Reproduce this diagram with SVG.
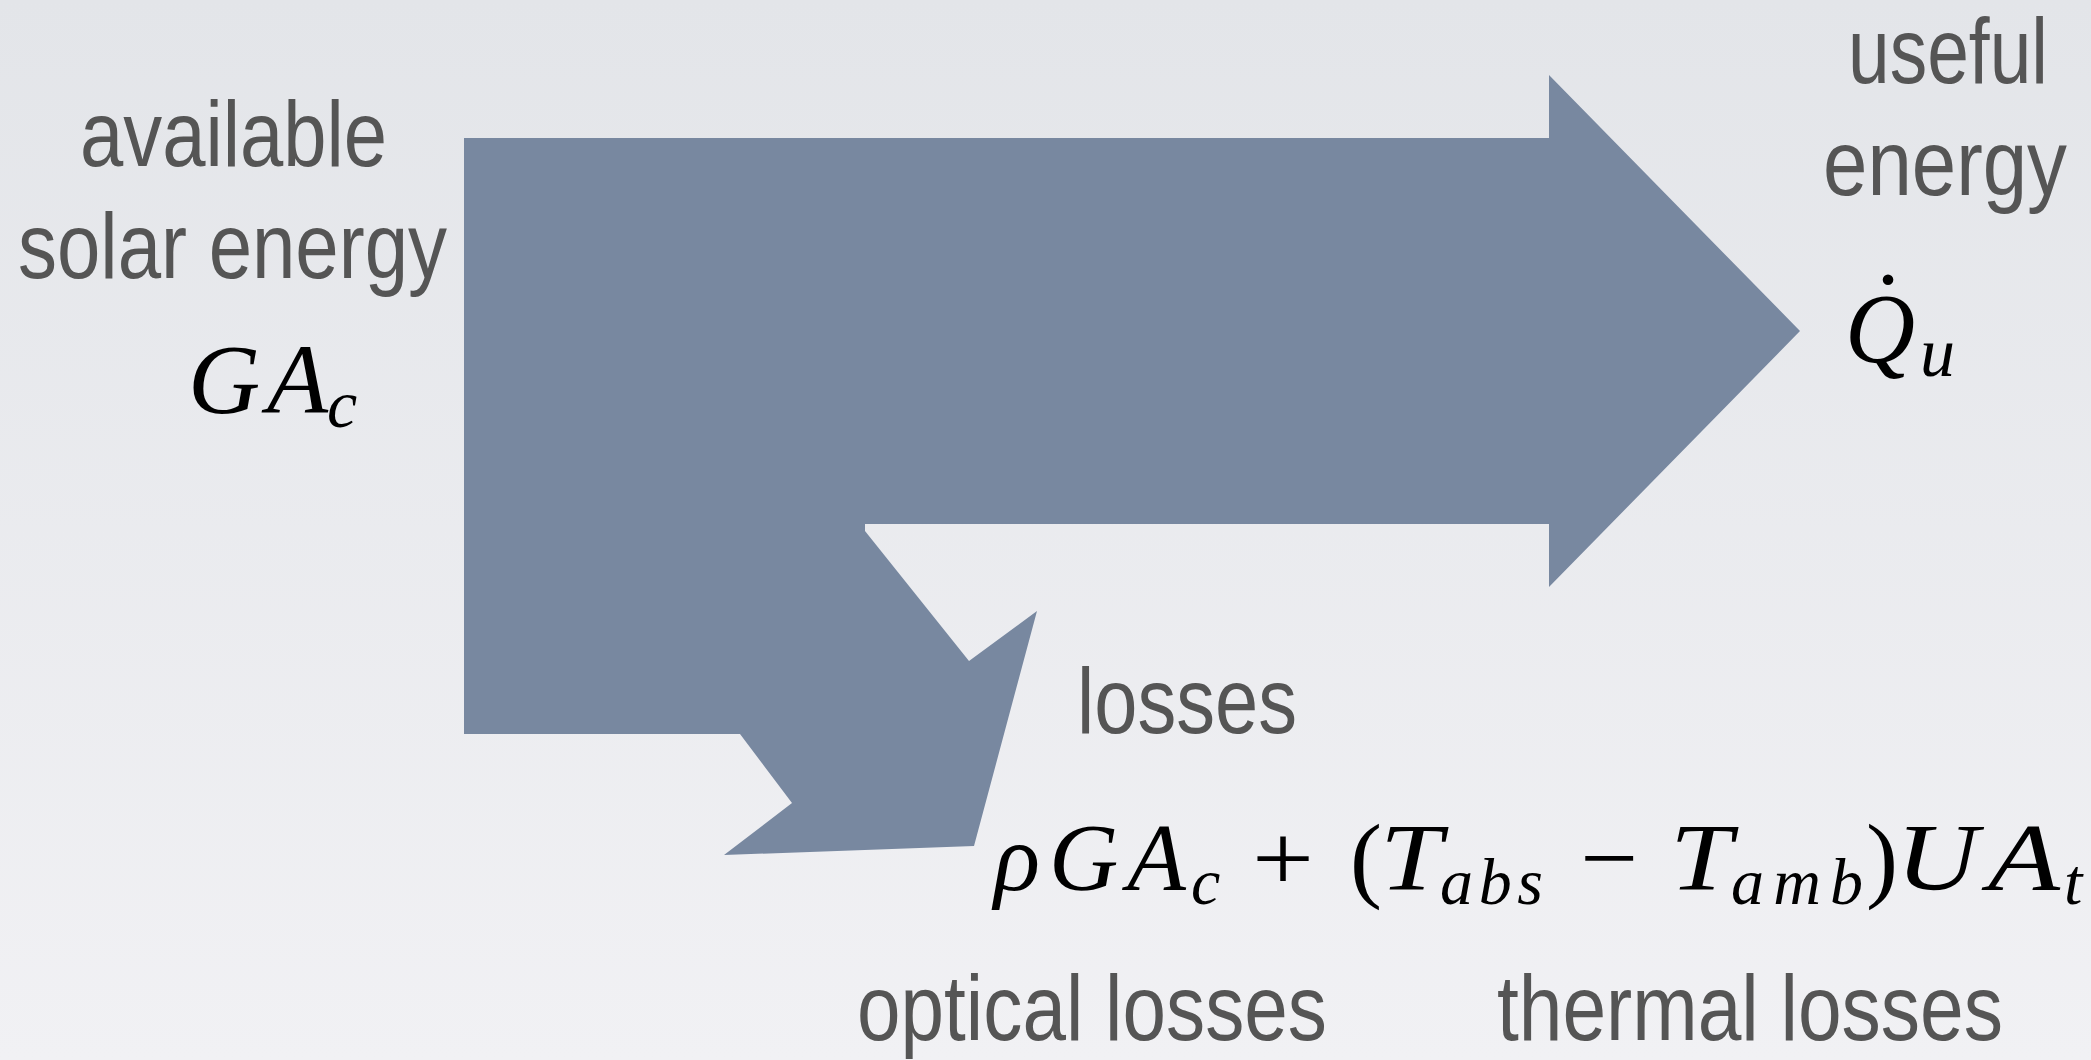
<svg xmlns="http://www.w3.org/2000/svg" width="2091" height="1060" viewBox="0 0 2091 1060">
  <defs>
    <linearGradient id="bg" x1="0" y1="0" x2="0" y2="1">
      <stop offset="0" stop-color="#e3e5e9"/>
      <stop offset="1" stop-color="#f1f1f4"/>
    </linearGradient>
  </defs>
  <style>
    .lbl { font-family: "Liberation Sans", Arial, sans-serif; font-size: 92px; fill: #555555; }
    .m { font-family: "Liberation Serif", "Times New Roman", serif; font-style: italic; fill: #000000; }
    .mu { font-family: "Liberation Serif", "Times New Roman", serif; font-style: normal; fill: #000000; }
    .flow { fill: #7888a0; }
  </style>
  <rect x="0" y="0" width="2091" height="1060" fill="url(#bg)"/>

  <g id="connectors">
    <polygon class="flow" points="464,138 1549,138 1549,75 1800,331 1549,587 1549,524 865,524 865,531 969,661 1037,611 974,846 724,855 792,803 740,734 464,734"/>
  </g>

  <g id="node-input">
    <text class="lbl" x="80" y="166" textLength="307" lengthAdjust="spacingAndGlyphs">available</text>
    <text class="lbl" x="18" y="278" textLength="429" lengthAdjust="spacingAndGlyphs">solar energy</text>
    <text class="m" x="188" y="413" font-size="100" textLength="140" lengthAdjust="spacing">GA</text>
    <text class="m" x="327" y="427" font-size="68">c</text>
  </g>

  <g id="node-useful">
    <text class="lbl" x="1848" y="83" textLength="200" lengthAdjust="spacingAndGlyphs">useful</text>
    <text class="lbl" x="1823" y="195" textLength="244" lengthAdjust="spacingAndGlyphs">energy</text>
    <text class="m" x="1845" y="362" font-size="100" textLength="70" lengthAdjust="spacingAndGlyphs">Q</text>
    <text class="mu" x="1888" y="340" font-size="100" text-anchor="middle">˙</text>
    <text class="m" x="1920" y="376" font-size="70">u</text>
  </g>

  <g id="node-losses">
    <text class="lbl" x="1077" y="733" textLength="220" lengthAdjust="spacingAndGlyphs">losses</text>
    <text class="m" x="994" y="890" font-size="96" textLength="192" lengthAdjust="spacing">ρGA</text>
    <text class="m" x="1191" y="904" font-size="66">c</text>
    <text class="mu" x="1252" y="890" font-size="96" textLength="62" lengthAdjust="spacingAndGlyphs">+</text>
    <text class="mu" x="1350" y="890" font-size="96">(</text>
    <text class="m" x="1380" y="890" font-size="96" textLength="62" lengthAdjust="spacingAndGlyphs">T</text>
    <text class="m" x="1440" y="904" font-size="66" textLength="103" lengthAdjust="spacing">abs</text>
    <text class="mu" x="1580" y="890" font-size="96" textLength="58" lengthAdjust="spacingAndGlyphs">−</text>
    <text class="m" x="1670" y="890" font-size="96" textLength="62" lengthAdjust="spacingAndGlyphs">T</text>
    <text class="m" x="1731" y="904" font-size="66" textLength="132" lengthAdjust="spacing">amb</text>
    <text class="mu" x="1866" y="890" font-size="96">)</text>
    <text class="m" x="1896" y="890" font-size="96" textLength="82" lengthAdjust="spacingAndGlyphs">U</text>
    <text class="m" x="1988" y="890" font-size="96" textLength="72" lengthAdjust="spacingAndGlyphs">A</text>
    <text class="m" x="2064" y="904" font-size="66">t</text>
    <text class="lbl" x="857" y="1040" textLength="470" lengthAdjust="spacingAndGlyphs">optical losses</text>
    <text class="lbl" x="1497" y="1040" textLength="506" lengthAdjust="spacingAndGlyphs">thermal losses</text>
  </g>
</svg>
